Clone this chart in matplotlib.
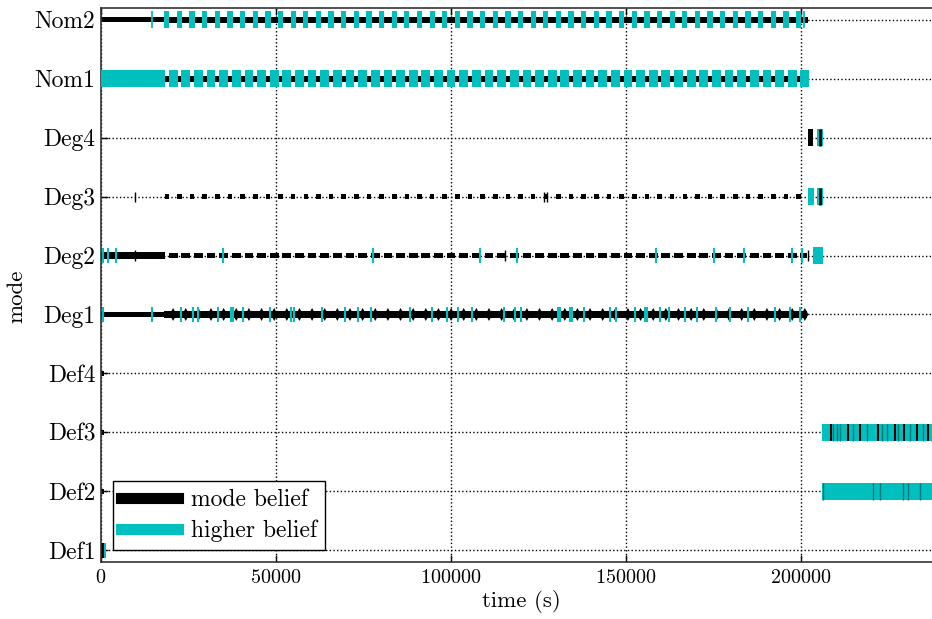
import matplotlib
matplotlib.use('Agg')
import matplotlib.pyplot as plt
from matplotlib.lines import Line2D

plt.rcParams['font.family'] = ['cmr10', 'DejaVu Serif']
plt.rcParams['axes.formatter.use_mathtext'] = True

modes = ['Def1', 'Def2', 'Def3', 'Def4', 'Deg1', 'Deg2', 'Deg3', 'Deg4', 'Nom1', 'Nom2']
cyan = (0.0, 0.75, 0.75)
teal = (0.0, 0.45, 0.45)

# centre of the short Nom2 spell in each hourly cycle (s)
cycle_gaps = [18800, 22410, 26020, 29630, 33240, 36850, 40460, 44070, 47680, 51290,
              54900, 58510, 62120, 65730, 69340, 72950, 76560, 80170, 83780, 87390,
              91000, 94610, 98220, 101830, 105440, 109050, 112660, 116270, 119880, 123490,
              127100, 130710, 134320, 137930, 141540, 145150, 148760, 152370, 155980, 159590,
              163200, 166810, 170420, 174030, 177640, 181250, 184860, 188470, 192080, 195690,
              199300]
gap_width = 1100
nom1_end = 202300

# short "higher belief" flashes seen on the Deg rows (s)
deg1_cyan_ticks = [570, 14570, 22860, 26290, 27710, 33430, 37140, 37710, 40570, 48290,
                   54290, 55140, 63140, 69710, 73430, 77140, 88290, 94570, 98860, 102000,
                   106000, 115140, 118290, 120000, 130570, 131140, 134000, 134570, 138000, 145430,
                   147140, 152570, 155430, 156000, 159710, 162290, 166860, 170290, 175710, 179710,
                   184860, 192570, 196860, 199710]
deg2_cyan_ticks = [570, 2000, 4300, 34860, 77700, 108300, 118900, 158600, 175100, 183700,
                   197400, 200300]
deg2_black_ticks = [9700, 115400, 202000]
deg3_black_ticks = [9700, 126700, 127300]
nom2_cyan_ticks = [14600, 200900]

# end phase: fault modes (s)
def_start = 206000
def_end = 240000
def3_black_ticks = [208570, 213430, 216860, 222000, 226860, 229430, 233140, 236290]
def3_teal_ticks = [209140, 210290, 211140, 214860, 218860, 223140, 224570, 227710,
                   231140, 234860]
def2_teal_ticks = [206300, 220570, 222570, 229140, 230570, 234000]


def bars(ax, row, spans, h, color, z=2):
    ax.broken_barh(spans, (row - h / 2.0, h), facecolors=color, edgecolor='none', zorder=z)


def ticks(ax, row, xs, h, color, lw=1.3, z=3):
    ax.vlines(xs, row - h / 2.0, row + h / 2.0, colors=color, linewidth=lw, zorder=z)


fig = plt.figure(figsize=(9.32, 6.19), dpi=100)
ax = fig.add_axes([101 / 932.0, 57 / 619.0, 840 / 932.0, 554 / 619.0])

between = [(g + gap_width / 2, n - g - gap_width) for g, n in zip(cycle_gaps[:-1], cycle_gaps[1:])]
last_block = (cycle_gaps[-1] + gap_width / 2, nom1_end - cycle_gaps[-1] - gap_width / 2)

# Nom2
bars(ax, 9, [(0, 18000)], 0.08, 'k')
bars(ax, 9, [(18000, 184000)], 0.1, 'k')
bars(ax, 9, [(g - 750, 1500) for g in cycle_gaps], 0.29, cyan, z=3)
ticks(ax, 9, nom2_cyan_ticks, 0.29, cyan)

# Nom1
bars(ax, 8, [(0, nom1_end)], 0.1, 'k')
bars(ax, 8, [(0, cycle_gaps[0] - gap_width / 2)] + between + [last_block], 0.29, cyan, z=3)

# Deg4
bars(ax, 7, [(202000, 1400)], 0.28, 'k')
bars(ax, 7, [(204500, 1800)], 0.28, cyan)
ticks(ax, 7, [205300], 0.28, 'k', lw=2)

# Deg3
bars(ax, 6, [(g - 650, 1300) for g in cycle_gaps], 0.09, 'k')
ticks(ax, 6, deg3_black_ticks, 0.17, 'k', lw=1)
bars(ax, 6, [(202000, 1700), (204500, 1800)], 0.28, cyan)
ticks(ax, 6, [205300], 0.28, 'k', lw=2)

# Deg2
bars(ax, 5, [(0, cycle_gaps[0] - gap_width / 2)], 0.11, 'k')
bars(ax, 5, between + [(cycle_gaps[-1] + gap_width / 2, 201700 - cycle_gaps[-1] - gap_width / 2)], 0.1, 'k')
ticks(ax, 5, deg2_black_ticks, 0.18, 'k', lw=1)
ticks(ax, 5, deg2_cyan_ticks, 0.24, cyan, lw=1.5)
bars(ax, 5, [(203300, 2900)], 0.28, cyan)

# Deg1
bars(ax, 4, [(0, 18000)], 0.08, 'k')
bars(ax, 4, [(18000, 183700)], 0.12, 'k')
for g in cycle_gaps:
    c = g + 1800
    ax.fill([c - 1000, c, c + 1000, c], [4, 4.11, 4, 3.89], color='k', lw=0, zorder=2)
ticks(ax, 4, deg1_cyan_ticks, 0.25, cyan, lw=1.5)

# Def4 .. Def2 start markers
for row in [3, 2, 1]:
    bars(ax, row, [(0, 900)], 0.09, 'k')

# Def1
bars(ax, 0, [(0, 800)], 0.25, 'k')
bars(ax, 0, [(800, 700)], 0.25, cyan)

# Def3 / Def2 final phase
bars(ax, 2, [(def_start, def_end - def_start)], 0.29, cyan)
ticks(ax, 2, def3_teal_ticks, 0.29, teal, lw=1.0)
ticks(ax, 2, def3_black_ticks, 0.29, 'k', lw=1.5)
bars(ax, 1, [(def_start, def_end - def_start)], 0.29, cyan)
ticks(ax, 1, def2_teal_ticks, 0.29, teal, lw=1.0)

ax.set_xlim(0, 240000)
ax.set_ylim(-0.2, 9.2)
ax.set_xticks([0, 50000, 100000, 150000, 200000])
ax.set_yticks(range(len(modes)))
ax.set_yticklabels(modes)
ax.tick_params(axis='x', direction='in', top=True, length=5, width=1, labelsize=14.5, pad=5)
ax.tick_params(axis='y', direction='in', right=True, length=5, width=1, labelsize=17, pad=4)
ax.grid(True, linestyle=':', color='k', linewidth=1)
ax.set_axisbelow(True)
for sp in ax.spines.values():
    sp.set_color('#333333')
    sp.set_linewidth(1.2)

ax.set_xlabel('time (s)', fontsize=16.5, labelpad=2)
ax.set_ylabel('mode', fontsize=16.5)
ax.yaxis.set_label_coords(-0.089, 0.48)

handles = [Line2D([], [], color='k', lw=8), Line2D([], [], color=cyan, lw=8)]
leg = ax.legend(handles, ['mode belief', 'higher belief'], loc='lower left', fancybox=False,
                edgecolor='k', framealpha=1, fontsize=17, handlelength=2.4,
                handletextpad=0.55, borderpad=0.35, labelspacing=0.35)
leg.get_frame().set_linewidth(1)

fig.savefig('out.png', dpi=100)
